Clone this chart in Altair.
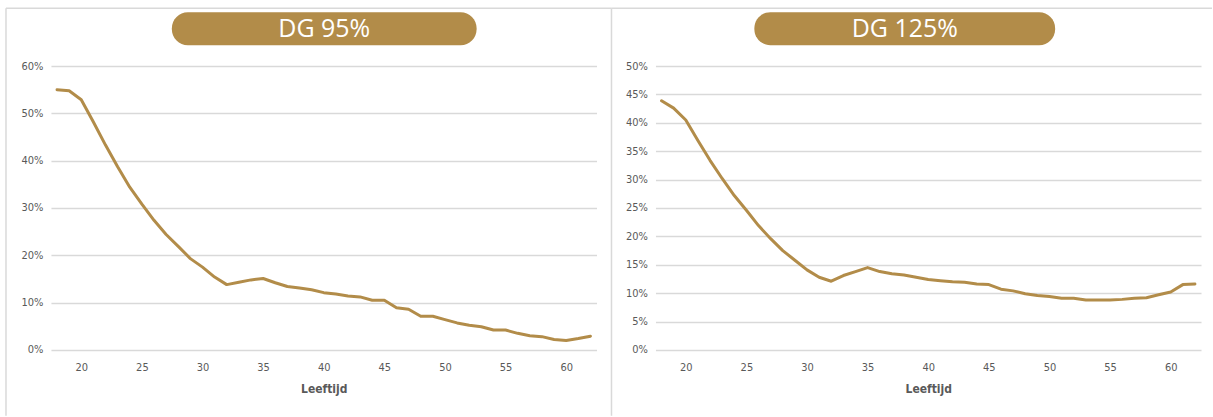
import altair as alt
import pandas as pd

# Leeftijd 18 t/m 62
ages = list(range(18, 63))

# Aandeel (in %) per leeftijd
dg95 = [55.0, 54.8, 52.9, 48.2, 43.3, 38.7, 34.4, 30.8, 27.4, 24.4,
        21.9, 19.3, 17.5, 15.4, 13.8, 14.3, 14.8, 15.1, 14.2, 13.4,
        13.1, 12.7, 12.1, 11.8, 11.4, 11.2, 10.5, 10.5, 8.9, 8.6,
        7.1, 7.1, 6.4, 5.7, 5.2, 4.9, 4.2, 4.2, 3.5, 3.0,
        2.8, 2.2, 2.0, 2.4, 2.9]
dg125 = [43.9, 42.6, 40.5, 36.9, 33.4, 30.2, 27.2, 24.6, 21.9, 19.6,
         17.5, 15.8, 14.1, 12.8, 12.1, 13.1, 13.8, 14.5, 13.8, 13.4,
         13.2, 12.8, 12.4, 12.2, 12.0, 11.9, 11.6, 11.5, 10.7, 10.4,
         9.9, 9.6, 9.4, 9.1, 9.1, 8.8, 8.8, 8.8, 8.9, 9.1,
         9.2, 9.7, 10.2, 11.5, 11.6]

x_ticks = [20, 25, 30, 35, 40, 45, 50, 55, 60]
y_ticks_95 = [0, 0.1, 0.2, 0.3, 0.4, 0.5, 0.6]
y_ticks_125 = [0, 0.05, 0.1, 0.15, 0.2, 0.25, 0.3, 0.35, 0.4, 0.45, 0.5]

GOLD = "#B28C49"
GRID = "#D9D9D9"
FRAME = "#D9D9D9"
LABEL = "#595959"
SMALL_FONT = "Liberation Sans Narrow, DejaVu Sans Condensed, sans-serif"

W, H = 546, 284


def panel(values, title, y_ticks, pill_x0, pill_x1, top_x0, top_x1, sides):
    df = pd.DataFrame({"Leeftijd": ages, "Aandeel": [v / 100 for v in values]})
    one = pd.DataFrame({"t": [title]})

    line = alt.Chart(df).mark_line(
        color=GOLD, strokeWidth=3, strokeJoin="round", strokeCap="round"
    ).encode(
        x=alt.X(
            "Leeftijd:Q",
            scale=alt.Scale(domain=[17.5, 62.5], nice=False, zero=False),
            axis=alt.Axis(
                values=x_ticks, title="Leeftijd", grid=False, ticks=False,
                domain=False, labelPadding=12, titlePadding=11,
            ),
        ),
        y=alt.Y(
            "Aandeel:Q",
            scale=alt.Scale(domain=[y_ticks[0], y_ticks[-1]], nice=False),
            axis=alt.Axis(
                values=y_ticks, format=".0%", title=None, grid=True,
                gridColor=GRID, gridWidth=1.5, ticks=False, domain=False,
                labelPadding=8,
            ),
        ),
    )

    frame = alt.Chart(one)
    layers = [frame.mark_rule(color=FRAME, strokeWidth=1.5).encode(
        x=alt.value(top_x0), x2=alt.value(top_x1), y=alt.value(-58)
    )]
    for fx in sides:
        layers.append(frame.mark_rule(color=FRAME, strokeWidth=1.5).encode(
            x=alt.value(fx), y=alt.value(-58), y2=alt.value(350)
        ))

    pill = frame.mark_rect(color=GOLD, cornerRadius=16).encode(
        x=alt.value(pill_x0), x2=alt.value(pill_x1),
        y=alt.value(-54), y2=alt.value(-21),
    )
    label = frame.mark_text(
        color="white", font="Open Sans", fontSize=25, baseline="middle",
        align="center",
    ).encode(
        x=alt.value((pill_x0 + pill_x1) / 2), y=alt.value(-37), text="t:N"
    )

    return alt.layer(*layers, pill, label, line).properties(width=W, height=H)


left = panel(dg95, "DG 95%", y_ticks_95, 121, 426, -45, 561, [-45, 561])
right = panel(dg125, "DG 125%", y_ticks_125, 99, 400, -44, 557, [])

chart = alt.hconcat(left, right, spacing=59, bounds="flush").properties(
    padding={"left": 5, "top": 7, "right": 0, "bottom": 0},
).configure_view(stroke=None).configure_axis(
    labelFont=SMALL_FONT, labelFontSize=11, labelColor=LABEL,
    titleFont=SMALL_FONT, titleFontSize=12, titleColor=LABEL,
    titleFontWeight="bold",
)

chart.save("out.html", embed_options={"renderer": "svg", "actions": False})
